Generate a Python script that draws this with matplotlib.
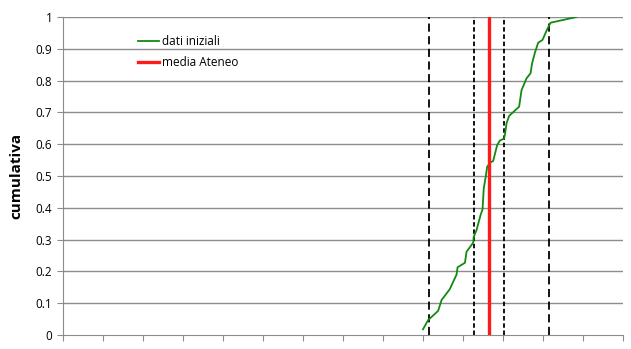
import matplotlib.pyplot as plt

# cumulative curve (x in axis units, 14 intervals)
x_dati = [8.99, 9.12, 9.37, 9.455, 9.66, 9.83, 9.855, 10.04, 10.08, 10.245, 10.26,
          10.33, 10.43, 10.48, 10.51, 10.56, 10.595, 10.68, 10.745, 10.845, 10.91,
          11.02, 11.045, 11.08, 11.145, 11.395, 11.455, 11.58, 11.68, 11.72, 11.79,
          11.87, 11.98, 12.095, 12.18, 12.83]
y_dati = [0.018, 0.047, 0.076, 0.11, 0.144, 0.19, 0.213, 0.227, 0.262, 0.29, 0.309,
          0.33, 0.377, 0.395, 0.461, 0.498, 0.529, 0.543, 0.547, 0.597, 0.611,
          0.618, 0.634, 0.666, 0.689, 0.718, 0.77, 0.807, 0.823, 0.855, 0.888,
          0.919, 0.928, 0.961, 0.982, 1.0]
linee_esterne = [9.14, 12.14]
linee_interne = [10.26, 11.01]
media_ateneo = 10.64

plt.rcParams['font.family'] = ['Open Sans', 'DejaVu Sans']

fig = plt.figure(figsize=(6.31, 3.49), dpi=100)
ax = fig.add_axes([0.1006, 0.0401, 0.8872, 0.9112])

for yv in [i / 10 for i in range(1, 11)]:
    ax.axhline(yv, color='#8c8c8c', lw=1, zorder=0)

ax.plot(x_dati, y_dati, color='#128a12', lw=1.3, label='dati iniziali', zorder=3)
for xv in linee_esterne:
    ax.axvline(xv, color='black', lw=1.3, ls=(0, (4.5, 2.5)), zorder=2)
for xv in linee_interne:
    ax.axvline(xv, color='black', lw=1.3, ls=(0, (2.5, 1.5)), zorder=2)
ax.axvline(media_ateneo, color='#ff1a1a', lw=2.4, label='media Ateneo', zorder=4)

ax.set_xlim(0, 14)
ax.set_ylim(0, 1)
ax.set_xticks(range(0, 15))
ax.set_xticklabels([])
ax.set_yticks([i / 10 for i in range(0, 11)])
ax.set_yticklabels(['0', '0.1', '0.2', '0.3', '0.4', '0.5', '0.6', '0.7', '0.8', '0.9', '1'])
ax.tick_params(axis='x', length=4, color='#8c8c8c', direction='out')
ax.tick_params(axis='y', length=4, color='#8c8c8c', labelsize=8.5, pad=4)

for s in ['top', 'right']:
    ax.spines[s].set_visible(False)
for s in ['left', 'bottom']:
    ax.spines[s].set_color('#8c8c8c')

ax.set_ylabel('cumulativa', fontsize=11, fontweight='bold', labelpad=9)

ax.legend(loc='upper left', bbox_to_anchor=(0.115, 0.977), frameon=False, fontsize=8.5,
          handlelength=1.7, handletextpad=0.3, labelspacing=0.7)

fig.savefig('out.png', dpi=100)
